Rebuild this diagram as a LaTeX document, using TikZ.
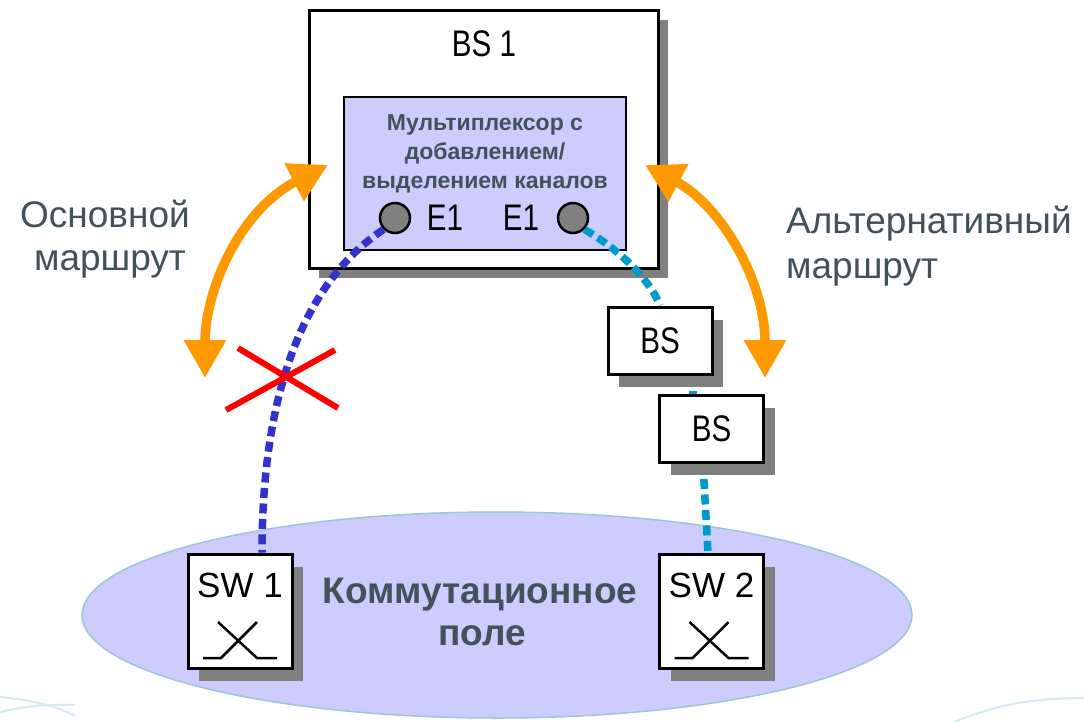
\documentclass[tikz,border=0pt]{standalone}
\usepackage{fontspec}
\setmainfont{Liberation Sans}
\newfontfamily\narrowfont[FakeStretch=0.8]{Liberation Sans}
\usetikzlibrary{arrows.meta, shadows, positioning}
\definecolor{lav}{HTML}{CCCCFF}
\definecolor{slate}{HTML}{41525A}
\definecolor{routeorange}{HTML}{FF9900}
\definecolor{mainblue}{HTML}{3333CC}
\definecolor{altcyan}{HTML}{0099CC}
\definecolor{shadowgray}{HTML}{808080}
\definecolor{rimblue}{HTML}{9CC5D5}
\definecolor{deco}{HTML}{D5EAF1}
\pgfdeclarelayer{back}
\pgfdeclarelayer{mid}
\pgfsetlayers{back,mid,main}
\newcommand\swsign[1]{\draw[line width=2.5pt,shift={(#1.center)}]
  (-22,11) -- (17,47) -- (37,47) (17,11) -- (-19,47) -- (-37,47);}

\begin{document}
\begin{tikzpicture}[x=1pt,y=-1pt,
  box/.style={draw,line width=3pt,fill=white,inner sep=0pt},
  smallshadow/.style={drop shadow={shadow xshift=11pt,shadow yshift=-13pt,fill=shadowgray,opacity=1}},
  bigshadow/.style={drop shadow={shadow xshift=10pt,shadow yshift=-10pt,fill=shadowgray,opacity=1}},
  bsbox/.style={box,smallshadow,minimum width=104pt,minimum height=67pt,font=\narrowfont\fontsize{37}{40}\selectfont},
  swbox/.style={box,smallshadow,minimum width=104pt,minimum height=114pt},
  narrowtxt/.style={inner sep=0pt,font=\narrowfont\fontsize{37}{40}\selectfont},
  swtxt/.style={inner sep=0pt,font=\fontsize{35}{40}\selectfont},
  port/.style={circle,draw,line width=2.5pt,fill=shadowgray,minimum size=30pt,inner sep=0pt},
  lbl/.style={text=slate,inner sep=0pt,font=\fontsize{37}{44}\selectfont},
  fieldtxt/.style={text=slate,inner sep=0pt,font=\bfseries\fontsize{37}{42}\selectfont},
  muxtxt/.style={text=slate,align=center,inner sep=0pt,font=\bfseries\fontsize{23}{29}\selectfont},
  trunk/.style={line width=7.5pt,dash pattern=on 10pt off 5.5pt},
  route/.style={routeorange,line width=9.5pt,{Triangle[length=38pt,width=40pt]}-{Triangle[length=38pt,width=40pt]}},
  ]
\useasboundingbox (0,0) rectangle (1084,721);

\begin{pgfonlayer}{back}
  \fill[white] (0,0) rectangle (1084,721);
  % faint template arcs in the corners
  \draw[deco,line width=2pt] (0,697) .. controls (30,700) and (55,705) .. (75,716)
    (0,712) .. controls (25,706) and (50,704) .. (75,705)
    (950,724) .. controls (990,706) and (1030,698) .. (1084,698);
  % switching field
  \draw[fill=lav,draw=rimblue,line width=1.5pt] (497,615) ellipse [x radius=415pt, y radius=103pt];
  % BS 1 with the add/drop multiplexer
  \node[box,bigshadow,minimum width=349pt,minimum height=258pt] (bs1) at (483.5,139) {};
  \node[narrowtxt] (bs1t) at (484,44) {BS 1};
  \node[draw,line width=2.5pt,fill=lav,minimum width=282pt,minimum height=153pt] (mux) at (485,173.5) {};
  \node[muxtxt] (muxt) at (485,154) {Мультиплексор с\\добавлением/\\выделением каналов};
  \node[port] (e1a) at (395,218) {};
  \node[port] (e1b) at (573,218) {};
  \node[narrowtxt] (e1at) at (445,218) {E1};
  \node[narrowtxt] (e1bt) at (521,218) {E1};
\end{pgfonlayer}

\node[bsbox] (bsa) at (660,340.5) {BS};
\node[bsbox] (bsb) at (711.5,428.5) {BS};
\node[swbox] (sw1) at (240,611) {};
\node[swbox] (sw2) at (711.5,611) {};
\node[swtxt] (sw1t) at (240,585) {SW 1};
\node[swtxt] (sw2t) at (711.5,585) {SW 2};
\swsign{sw1}
\swsign{sw2}

\begin{pgfonlayer}{mid}
  \draw[trunk,mainblue] (e1a.south west) .. controls (300,285) and (262,400) .. ([xshift=22pt]sw1.north);
  \draw[trunk,altcyan] (e1b.south east) .. controls (620,250) and (650,280) .. (bsa.north);
  \draw[trunk,altcyan] ([xshift=33pt]bsa.south) -- ([xshift=-18.5pt]bsb.north);
  \draw[trunk,altcyan] ([xshift=-8.5pt]bsb.south) -- ([xshift=-3.5pt]sw2.north);
\end{pgfonlayer}

% broken main route
\coordinate (cut) at (282,378);
\draw[red,line width=6pt,shift={(cut)}] (-44,-30) -- (56,30) (53,-28) -- (-56,32);

% route arrows
\coordinate (mainlo) at (205,378);
\coordinate (mainhi) at (328,165);
\coordinate (althi) at (645,165);
\coordinate (altlo) at (765,378);
\draw[route] (mainlo) .. controls (205,290) and (240,210) .. (mainhi);
\draw[route] (althi) .. controls (720,205) and (765,280) .. (altlo);

% labels
\node[lbl,anchor=base] (maina) at (105,227) {Основной};
\node[lbl,anchor=base] (mainb) at (110,270) {маршрут};
\node[lbl,anchor=base west] (alta) at (786,233) {Альтернативный};
\node[lbl,anchor=base west] (altb) at (786,278) {маршрут};
\node[fieldtxt,anchor=base] (fielda) at (480,603) {Коммутационное};
\node[fieldtxt,anchor=base] (fieldb) at (482,645) {поле};
\end{tikzpicture}
\end{document}
